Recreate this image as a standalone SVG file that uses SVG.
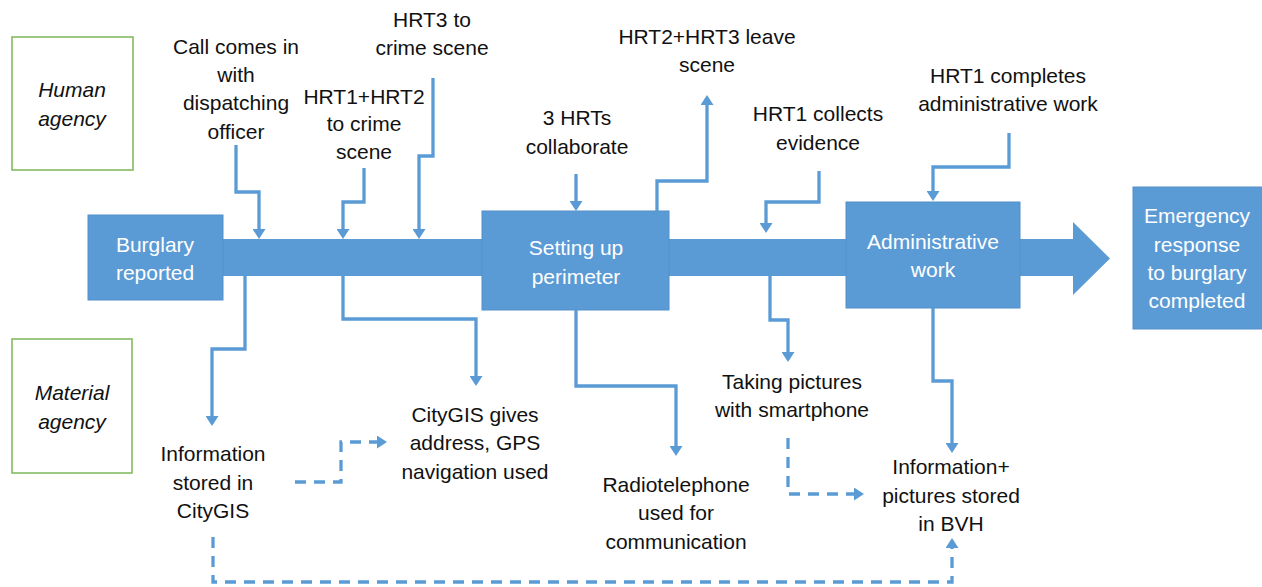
<svg xmlns="http://www.w3.org/2000/svg" width="1262" height="587" viewBox="0 0 1262 587">
<style>
.t{font-family:"Liberation Sans",Arial,sans-serif;font-size:21px;fill:#111;text-anchor:middle}
.w{fill:#fff}
.i{font-style:italic}
.box{fill:#5B9BD5;stroke:#5090cc;stroke-width:1}
.agency{fill:#fff;stroke:#7CB657;stroke-width:1.5}
.c{fill:none;stroke:#5B9BD5;stroke-width:3.3}
.d{stroke-dasharray:11 8}
</style>
<defs>
<marker id="ah" markerUnits="userSpaceOnUse" markerWidth="12" markerHeight="13" refX="2" refY="6.5" orient="auto">
<path d="M0,0 L10,6.5 L0,13 z" fill="#5B9BD5"/>
</marker>
</defs>
<rect width="1262" height="587" fill="#fff"/>

<g id="human-agency"><rect class="agency" x="12" y="37" width="121" height="133"/><text class="t i" x="72" y="97">Human</text><text class="t i" x="72" y="126">agency</text></g>
<g id="material-agency"><rect class="agency" x="12" y="339" width="120" height="134"/><text class="t i" x="72" y="400">Material</text><text class="t i" x="72" y="429">agency</text></g>

<g id="main-arrow"><path d="M223,239 H1073 V222 L1110,258.5 L1073,295 V276 H223 z" fill="#5B9BD5"/></g>

<g id="burglary-reported"><rect class="box" x="88" y="215" width="135" height="85"/><text class="t w" x="155" y="252">Burglary</text><text class="t w" x="155" y="280">reported</text></g>
<g id="setting-up-perimeter"><rect class="box" x="482" y="211" width="187" height="99"/><text class="t w" x="576" y="255">Setting up</text><text class="t w" x="576" y="284">perimeter</text></g>
<g id="administrative-work"><rect class="box" x="846" y="202" width="174" height="106"/><text class="t w" x="933" y="249">Administrative</text><text class="t w" x="933" y="277">work</text></g>
<g id="emergency-completed"><rect class="box" x="1133" y="187" width="130" height="142"/><text class="t w" x="1197" y="223">Emergency</text><text class="t w" x="1197" y="252">response</text><text class="t w" x="1197" y="280">to burglary</text><text class="t w" x="1197" y="308">completed</text></g>

<g id="call-comes-in"><text class="t" x="236" y="54">Call comes in</text><text class="t" x="236" y="82">with</text><text class="t" x="236" y="110">dispatching</text><text class="t" x="236" y="139">officer</text></g>
<g id="hrt3-to-scene"><text class="t" x="432" y="27">HRT3 to</text><text class="t" x="432" y="55">crime scene</text></g>
<g id="hrt12-to-scene"><text class="t" x="364" y="104">HRT1+HRT2</text><text class="t" x="364" y="131">to crime</text><text class="t" x="364" y="159">scene</text></g>
<g id="three-hrts"><text class="t" x="577" y="125">3 HRTs</text><text class="t" x="577" y="154">collaborate</text></g>
<g id="hrt23-leave"><text class="t" x="707" y="44">HRT2+HRT3 leave</text><text class="t" x="707" y="72">scene</text></g>
<g id="hrt1-evidence"><text class="t" x="818" y="121">HRT1 collects</text><text class="t" x="818" y="150">evidence</text></g>
<g id="hrt1-admin"><text class="t" x="1008" y="83">HRT1 completes</text><text class="t" x="1008" y="111">administrative work</text></g>

<g id="info-citygis"><text class="t" x="213" y="461">Information</text><text class="t" x="213" y="490">stored in</text><text class="t" x="213" y="518">CityGIS</text></g>
<g id="citygis-gps"><text class="t" x="475" y="422">CityGIS gives</text><text class="t" x="475" y="450">address, GPS</text><text class="t" x="475" y="479">navigation used</text></g>
<g id="radiotelephone"><text class="t" x="676" y="492">Radiotelephone</text><text class="t" x="676" y="520">used for</text><text class="t" x="676" y="549">communication</text></g>
<g id="taking-pictures"><text class="t" x="792" y="389">Taking pictures</text><text class="t" x="792" y="417">with smartphone</text></g>
<g id="info-bvh"><text class="t" x="951" y="474">Information+</text><text class="t" x="951" y="503">pictures stored</text><text class="t" x="951" y="531">in BVH</text></g>

<g id="connectors">
<path class="c" d="M236,145 V192 H259 V231" marker-end="url(#ah)"/>
<path class="c" d="M364,168 V202 H343 V231" marker-end="url(#ah)"/>
<path class="c" d="M433,78 V156 H419 V231" marker-end="url(#ah)"/>
<path class="c" d="M576,174 V203" marker-end="url(#ah)"/>
<path class="c" d="M657,211 V181 H707 V103" marker-end="url(#ah)"/>
<path class="c" d="M819,171 V202 H766 V225" marker-end="url(#ah)"/>
<path class="c" d="M1009,133 V167 H933 V193" marker-end="url(#ah)"/>
<path class="c" d="M245,276 V349 H212 V418" marker-end="url(#ah)"/>
<path class="c" d="M343,276 V319 H476 V378" marker-end="url(#ah)"/>
<path class="c" d="M576,310 V386 H676 V448" marker-end="url(#ah)"/>
<path class="c" d="M770,276 V320 H788 V354" marker-end="url(#ah)"/>
<path class="c" d="M933,308 V381 H952 V445" marker-end="url(#ah)"/>
<path class="c d" d="M295,482 H341 V442 H379" marker-end="url(#ah)"/>
<path class="c d" d="M788,438 V494 H856" marker-end="url(#ah)"/>
<path class="c d" d="M213,537 V582 H952 V546" marker-end="url(#ah)"/>
</g>
</svg>
